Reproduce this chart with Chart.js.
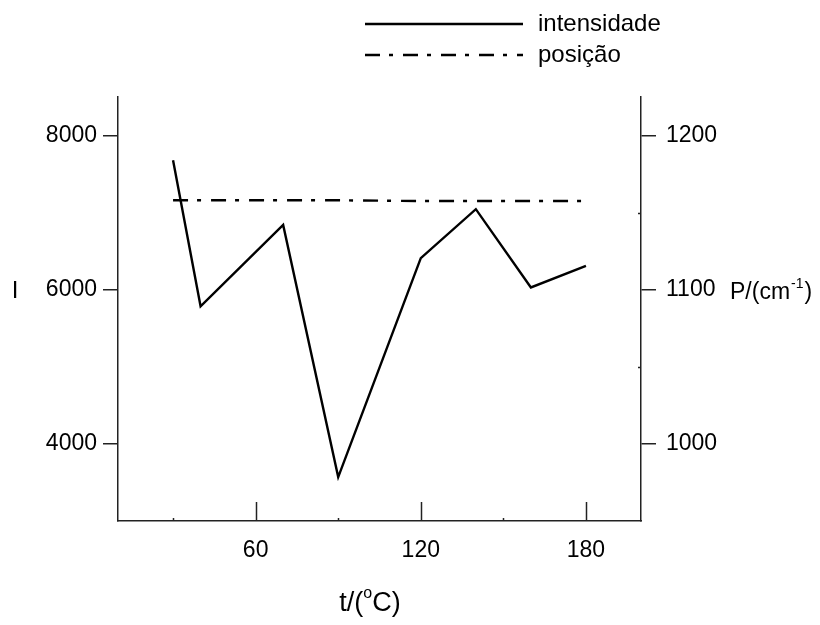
<!DOCTYPE html>
<html>
<head>
<meta charset="utf-8">
<script src="https://cdn.jsdelivr.net/npm/chart.js@4.4.1/dist/chart.umd.min.js"></script>
<style>
    html, body { margin: 0; padding: 0; background: #fff; }
    #wrap { width: 820px; height: 625px; position: relative; }
</style>
</head>
<body>
<div id="wrap"><canvas id="chart" width="820" height="625"></canvas></div>
<script>
// Data
const temperatures = [30, 40, 70, 90, 120, 140, 160, 180];
const intensity = [7680, 5785, 6840, 3570, 6410, 7045, 6030, 6310];
const position = [1158, 1158, 1158, 1158, 1157.5, 1157.5, 1157.5, 1157.5];

// Ticks
const xTicks = [30, 60, 90, 120, 150, 180];
const xLabels = [60, 120, 180];
const leftTicks = [4000, 6000, 8000];
const rightTicks = [1000, 1100, 1200];
const rightMinor = [1050, 1150];

const FONT = "'Liberation Sans', Arial, Helvetica, sans-serif";
const AXIS = '#222';
const DASH = [15, 9, 4, 10];

function toPoints(xs, ys) {
    return xs.map((x, i) => ({ x: x, y: ys[i] }));
}

// Inward ticks, legend and axis titles
const decorPlugin = {
    id: 'decor',
    afterDraw(chart) {
        const ctx = chart.ctx;
        const x = chart.scales.x;
        const yR = chart.scales.yP;
        const area = chart.chartArea;

        ctx.save();
        ctx.strokeStyle = AXIS;
        ctx.lineWidth = 1.5;
        // bottom axis ticks pointing up
        xTicks.forEach(v => {
            const px = Math.round(x.getPixelForValue(v)) + 0.5;
            const len = xLabels.includes(v) ? 19 : 3;
            ctx.beginPath();
            ctx.moveTo(px, area.bottom);
            ctx.lineTo(px, area.bottom - len);
            ctx.stroke();
        });
        // right axis minor ticks pointing in
        rightMinor.forEach(v => {
            const py = Math.round(yR.getPixelForValue(v)) + 0.5;
            ctx.beginPath();
            ctx.moveTo(area.right, py);
            ctx.lineTo(area.right - 3, py);
            ctx.stroke();
        });

        // legend
        ctx.strokeStyle = '#000';
        ctx.lineWidth = 2.4;
        ctx.beginPath();
        ctx.moveTo(365, 24);
        ctx.lineTo(523, 24);
        ctx.stroke();
        ctx.setLineDash(DASH);
        ctx.beginPath();
        ctx.moveTo(365, 55);
        ctx.lineTo(523, 55);
        ctx.stroke();
        ctx.setLineDash([]);

        ctx.fillStyle = '#000';
        ctx.textBaseline = 'middle';
        ctx.textAlign = 'left';
        ctx.font = '24px ' + FONT;
        ctx.fillText('intensidade', 538, 24);
        ctx.fillText('posição', 538, 55);

        // left title
        ctx.font = '24px ' + FONT;
        ctx.textAlign = 'center';
        ctx.fillText('I', 15, 291);

        // right title P/(cm-1)
        ctx.textAlign = 'left';
        let px = 730;
        ctx.font = '23px ' + FONT;
        ctx.fillText('P/(cm', px, 293);
        px += ctx.measureText('P/(cm').width;
        ctx.font = '14px ' + FONT;
        ctx.fillText('-1', px + 1, 284);
        px += ctx.measureText('-1').width + 2;
        ctx.font = '23px ' + FONT;
        ctx.fillText(')', px, 293);

        // bottom title t/(oC)
        const big = '27px ' + FONT;
        const small = '16px ' + FONT;
        ctx.font = big;
        const w1 = ctx.measureText('t/(').width;
        const w3 = ctx.measureText('C)').width;
        ctx.font = small;
        const w2 = ctx.measureText('o').width;
        let tx = 370 - (w1 + w2 + w3) / 2;
        ctx.font = big;
        ctx.fillText('t/(', tx, 604);
        tx += w1;
        ctx.font = small;
        ctx.fillText('o', tx, 594);
        tx += w2;
        ctx.font = big;
        ctx.fillText('C)', tx, 604);
        ctx.restore();
    }
};

const ctx = document.getElementById('chart').getContext('2d');
new Chart(ctx, {
    type: 'line',
    data: {
        datasets: [{
            label: 'intensidade',
            data: toPoints(temperatures, intensity),
            yAxisID: 'yI',
            borderColor: '#000',
            borderWidth: 2.4,
            pointRadius: 0,
            tension: 0,
            fill: false
        }, {
            label: 'posição',
            data: toPoints(temperatures, position),
            yAxisID: 'yP',
            borderColor: '#000',
            borderWidth: 2.4,
            borderDash: DASH,
            pointRadius: 0,
            tension: 0,
            fill: false
        }]
    },
    options: {
        responsive: false,
        animation: false,
        layout: { padding: { top: 97, left: 0, right: 0, bottom: 0 } },
        plugins: {
            legend: { display: false },
            tooltip: { enabled: false }
        },
        scales: {
            x: {
                type: 'linear',
                position: 'bottom',
                min: 10,
                max: 200,
                afterBuildTicks: s => { s.ticks = xTicks.map(v => ({ value: v })); },
                afterFit: s => { s.height = 104; },
                grid: { display: true, drawOnChartArea: false, drawTicks: false },
                border: { display: true, color: AXIS, width: 1.5 },
                ticks: {
                    autoSkip: false,
                    maxRotation: 0,
                    padding: 16,
                    color: '#000',
                    font: { family: FONT, size: 23 },
                    callback: v => xLabels.includes(v) ? String(v) : ''
                }
            },
            yI: {
                type: 'linear',
                position: 'left',
                min: 3000,
                max: 8500,
                afterBuildTicks: s => { s.ticks = leftTicks.map(v => ({ value: v })); },
                afterFit: s => { s.width = 118; },
                grid: { display: true, drawOnChartArea: false, drawTicks: true, tickLength: 15, color: AXIS, lineWidth: 1.5 },
                border: { display: true, color: AXIS, width: 1.5 },
                ticks: {
                    padding: 6,
                    color: '#000',
                    font: { family: FONT, size: 23 },
                    callback: v => String(v)
                }
            },
            yP: {
                type: 'linear',
                position: 'right',
                min: 950,
                max: 1225,
                afterBuildTicks: s => { s.ticks = rightTicks.map(v => ({ value: v })); },
                afterFit: s => { s.width = 179; },
                grid: { display: true, drawOnChartArea: false, drawTicks: true, tickLength: 15, color: AXIS, lineWidth: 1.5 },
                border: { display: true, color: AXIS, width: 1.5 },
                ticks: {
                    padding: 10,
                    color: '#000',
                    font: { family: FONT, size: 23 },
                    callback: v => String(v)
                }
            }
        }
    },
    plugins: [decorPlugin]
});
</script>
</body>
</html>
